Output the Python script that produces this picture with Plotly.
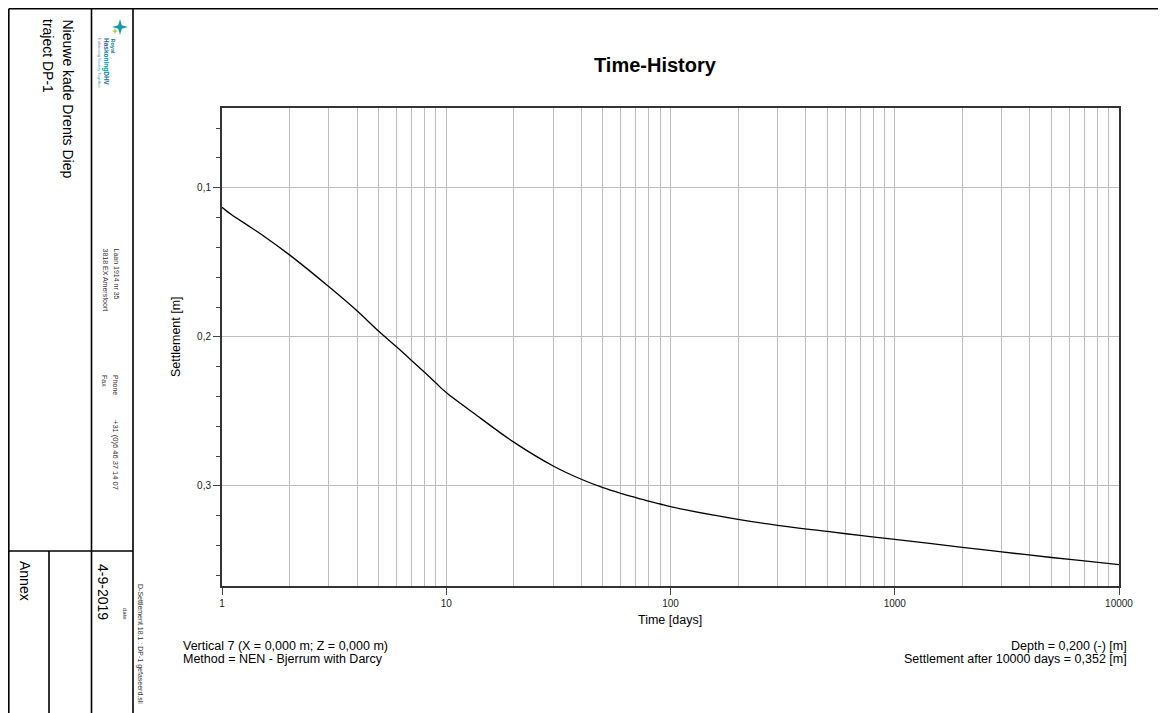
import math
import plotly.graph_objects as go

# ---------------- data ----------------
days = [1, 1.108, 1.293, 1.5, 2, 3, 4, 5, 6, 7, 8, 9, 10, 14.2, 20, 30, 40, 50, 60, 70, 80, 90,
        100, 200, 300, 500, 700, 1000, 2000, 3000, 5000, 7000, 10000]
settlement = [0.1131, 0.1183, 0.1249, 0.1313, 0.1450, 0.1664, 0.1825, 0.1963, 0.2067, 0.2158,
              0.2238, 0.2310, 0.2374, 0.2545, 0.2706, 0.2866, 0.2955, 0.3011, 0.3049, 0.3078,
              0.3102, 0.3121, 0.3139, 0.3224, 0.3264, 0.3305, 0.3332, 0.3358, 0.3412, 0.3442,
              0.3480, 0.3502, 0.3527]
x_tick_vals = [1, 10, 100, 1000, 10000]
x_tick_text = ["1", "10", "100", "1000", "10000"]

title_text = "Time-History"
x_title = "Time [days]"
y_title = "Settlement [m]"
info_left = ["Vertical 7 (X = 0,000 m; Z = 0,000 m)", "Method = NEN - Bjerrum with Darcy"]
info_right = ["Depth = 0,200 (-) [m]", "Settlement after 10000 days = 0,352 [m]"]
project_lines = ["Nieuwe kade Drents Diep", "traject DP-1"]
address_lines = ["Laan 1914 nr 35", "3818 EX Amersfoort"]
phone_labels = ["Phone", "Fax"]
phone_number = "+31 (0)6 46 37 14 07"
date_text = "4-9-2019"
date_label = "date"
file_text = "D-Settlement 18.1 : DP-1 gefaseerd.sli"
annex_text = "Annex"
logo_lines = ["Royal", "HaskoningDHV", "Enhancing Society Together"]

# ---------------- layout geometry (page pixels) ----------------
PAGE_W, PAGE_H = 1166, 713
OFF = 8                      # default body margin of the html page
W, H = PAGE_W - OFF, PAGE_H - OFF
PLOT_L, PLOT_R, PLOT_T, PLOT_B = 222, 1119, 108, 586   # page coords
ML = PLOT_L - OFF
MT = PLOT_T - OFF
MR = PAGE_W - PLOT_R
MB = PAGE_H - PLOT_B
PW = W - ML - MR
PH = H - MT - MB
FONT = "Liberation Sans, Arial, sans-serif"


def px(xp):
    xf = max(xp - OFF, 0.8)
    return (xf - ML) / PW


def py(yp):
    yf = max(yp - OFF, 0.8)
    return (H - MB - yf) / PH


fig = go.Figure()
fig.add_trace(go.Scatter(
    x=days, y=settlement, mode="lines",
    line=dict(color="black", width=1.3, shape="spline", smoothing=1.0),
    hoverinfo="skip", showlegend=False,
))

grid_col = "#bdbdbd"
fig.update_xaxes(
    type="log", range=[0, 4],
    tickmode="array", tickvals=x_tick_vals, ticktext=x_tick_text,
    ticks="outside", ticklen=7, tickcolor="#444", tickwidth=1,
    showgrid=True, gridcolor=grid_col, gridwidth=1,
    minor=dict(dtick="D1", showgrid=True, gridcolor=grid_col, gridwidth=1, ticks=""),
    showline=True, linecolor="#333", linewidth=2, mirror=True,
    tickfont=dict(family=FONT, size=10, color="#222"),
    zeroline=False,
)
fig.update_yaxes(
    range=[0.3671, 0.0465],
    tick0=0, dtick=0.1, tickformat=".1f",
    ticks="outside", ticklen=7, tickcolor="#444", tickwidth=1,
    showgrid=True, gridcolor=grid_col, gridwidth=1,
    minor=dict(tick0=0, dtick=0.02, ticks="outside", ticklen=4, tickcolor="#444", showgrid=False),
    showline=True, linecolor="#333", linewidth=2, mirror=True,
    tickfont=dict(family=FONT, size=10, color="#222"),
    zeroline=False,
)

ann = []


def add_text(text, xp, yp, size, xanchor="center", yanchor="middle", angle=0, bold=False, color="black"):
    ann.append(dict(
        text=("<b>%s</b>" % text) if bold else text,
        x=px(xp), y=py(yp), xref="paper", yref="paper",
        xanchor=xanchor, yanchor=yanchor, textangle=angle, showarrow=False,
        font=dict(family=FONT, size=size, color=color),
    ))


# chart texts
add_text(title_text, 655, 65, 20, bold=True)
add_text(x_title, 670, 620, 12.5)
add_text(y_title, 176, 337, 12.5, angle=-90)
add_text(info_left[0], 181, 646, 12.5, xanchor="left")
add_text(info_left[1], 181, 659, 12.5, xanchor="left")
add_text(info_right[0], 1129, 646, 12.5, xanchor="right")
add_text(info_right[1], 1129, 659, 12.5, xanchor="right")

# title block (rotated texts)
add_text(project_lines[0], 68, 17, 14, yanchor="top", angle=90)
add_text(project_lines[1], 48, 17, 14, yanchor="top", angle=90)
add_text(address_lines[0], 116, 246, 7, yanchor="top", angle=90, color="#333")
add_text(address_lines[1], 105, 246, 7, yanchor="top", angle=90, color="#333")
add_text(phone_labels[0], 116, 373, 7, yanchor="top", angle=90, color="#333")
add_text(phone_labels[1], 105, 373, 7, yanchor="top", angle=90, color="#333")
add_text(phone_number, 116, 418, 7.5, yanchor="top", angle=90, color="#333")
add_text(date_text, 103, 562, 14, yanchor="top", angle=90)
add_text(date_label, 125, 606, 6, yanchor="top", angle=90, color="#333")
add_text(file_text, 140, 582, 7, yanchor="top", angle=90, color="#333")
add_text(annex_text, 25, 559, 14, yanchor="top", angle=90)
add_text(logo_lines[0], 113, 36, 5.5, yanchor="top", angle=90, bold=True, color="#0b7a8f")
add_text(logo_lines[1], 106, 36, 6.5, yanchor="top", angle=90, bold=True, color="#0b7a8f")
add_text(logo_lines[2], 100, 36, 4, yanchor="top", angle=90, color="#5a9aa6")

shapes = []


def add_line(x0, y0, x1, y1, w=1.6):
    shapes.append(dict(type="line", xref="paper", yref="paper",
                       x0=px(x0), y0=py(y0), x1=px(x1), y1=py(y1),
                       line=dict(color="black", width=w)))


add_line(7, 7, 1166, 7)
add_line(7, 7, 7, 713)
add_line(91.5, 7, 91.5, 713)
add_line(133, 7, 133, 713)
add_line(7, 551, 133, 551)
add_line(49, 551, 49, 713)


# simple logo star
def star_path(cx, cy, r_out, r_in):
    pts = []
    for k in range(8):
        r = r_out if k % 2 == 0 else r_in
        a = math.pi / 4 * k
        pts.append((px(cx + r * math.cos(a)), py(cy + r * math.sin(a))))
    return "M " + " L ".join("%f,%f" % p for p in pts) + " Z"


shapes.append(dict(type="path", xref="paper", yref="paper",
                   path=star_path(120, 27, 8, 2.5),
                   fillcolor="#1a9aa8", line=dict(width=0)))
shapes.append(dict(type="path", xref="paper", yref="paper",
                   path=star_path(115, 31, 3.5, 1.2),
                   fillcolor="#b5cc2e", line=dict(width=0)))

fig.update_layout(
    width=W, height=H,
    margin=dict(l=ML, r=MR, t=MT, b=MB),
    paper_bgcolor="white", plot_bgcolor="white",
    separators=",.",
    annotations=ann, shapes=shapes,
    font=dict(family=FONT),
)

fig.write_html("out.html")
